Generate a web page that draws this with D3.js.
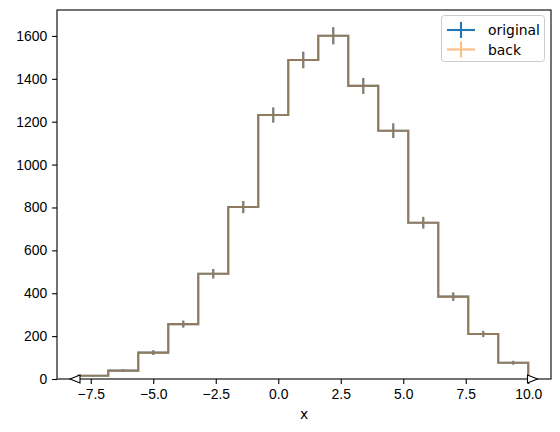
<!DOCTYPE html>
<meta charset="utf-8">
<head>
<style>
  * { margin: 0; padding: 0; }
  body { background: #fff; }
  svg { font-family: "DejaVu Sans", sans-serif; }
</style>
</head>
<body>
<svg id="chart" width="560" height="432"></svg>
<script src="https://cdn.jsdelivr.net/npm/d3@7"></script>
<script>
// bin edges and counts
var edges = [-8, -6.8, -5.6, -4.4, -3.2, -2.0, -0.8, 0.4, 1.6, 2.8, 4.0, 5.2, 6.4, 7.6, 8.8, 10.0];
var original = [15, 39, 123, 256, 491, 802, 1231, 1488, 1601, 1367, 1158, 729, 384, 210, 76];
var back = [15, 39, 123, 256, 491, 802, 1231, 1488, 1601, 1367, 1158, 729, 384, 210, 76];
var flowHints = [{x: -8.13, dir: "<"}, {x: 10.17, dir: ">"}];
var xTicks = [-7.5, -5.0, -2.5, 0.0, 2.5, 5.0, 7.5, 10.0];
var yTicks = [0, 200, 400, 600, 800, 1000, 1200, 1400, 1600];
var series = [
  {name: "original", values: original, color: "#1f77b4", opacity: 1},
  {name: "back", values: back, color: "#ff7f0e", opacity: 0.5}
];

var svg = d3.select("#chart");
// note: "top" is taken by window.top, so plot box uses its own names
var plotL = 57, plotR = 551, plotT = 10, plotB = 379;

var x = d3.scaleLinear().domain([-8.85, 10.91]).range([plotL, plotR]);
var y = d3.scaleLinear().domain([0, 1721]).range([plotB, plotT]);

var fmtX = function(d) { return d3.format(".1f")(d).replace("-", "\u2212"); };

// axes
var xAxis = d3.axisBottom(x).tickValues(xTicks).tickFormat(fmtX).tickSizeOuter(0).tickSize(4.9).tickPadding(4.9);
var yAxis = d3.axisLeft(y).tickValues(yTicks).tickFormat(d3.format("d")).tickSizeOuter(0).tickSize(4.9).tickPadding(4.9);

function styleAxis(g) {
  g.select(".domain").remove();
  g.selectAll("line").attr("stroke", "#000").attr("stroke-width", 1.1);
  g.selectAll("text").attr("fill", "#000").style("font-size", "13.9px");
}

svg.append("g").attr("transform", "translate(0," + plotB + ")").call(xAxis).call(styleAxis);
svg.append("g").attr("transform", "translate(" + plotL + ",0)").call(yAxis).call(styleAxis);

// series: step line + sqrt(N) error bars
series.forEach(function(s) {
  var g = svg.append("g").attr("opacity", s.opacity);
  var pts = [[edges[0], 0]];
  s.values.forEach(function(v, i) {
    pts.push([edges[i], v]);
    pts.push([edges[i + 1], v]);
  });
  pts.push([edges[edges.length - 1], 0]);
  var line = d3.line().x(function(d) { return x(d[0]); }).y(function(d) { return y(d[1]); });
  g.append("path")
    .attr("d", line(pts))
    .attr("fill", "none")
    .attr("stroke", s.color)
    .attr("stroke-width", 2.1)
    .attr("stroke-linejoin", "miter");
  g.selectAll("line.err")
    .data(s.values)
    .enter().append("line")
    .attr("x1", function(d, i) { return x((edges[i] + edges[i + 1]) / 2); })
    .attr("x2", function(d, i) { return x((edges[i] + edges[i + 1]) / 2); })
    .attr("y1", function(d) { return y(d - Math.sqrt(d)); })
    .attr("y2", function(d) { return y(d + Math.sqrt(d)); })
    .attr("stroke", s.color)
    .attr("stroke-width", 2.1);
});

// frame
svg.append("rect")
  .attr("x", plotL).attr("y", plotT)
  .attr("width", plotR - plotL).attr("height", plotB - plotT)
  .attr("fill", "none").attr("stroke", "#000").attr("stroke-width", 1.1);

// flow hint triangles
flowHints.forEach(function(h) {
  var cx = x(h.x), cy = y(0);
  var p = h.dir === "<"
    ? [[cx - 5, cy], [cx + 5, cy - 4], [cx + 5, cy + 4]]
    : [[cx + 5, cy], [cx - 5, cy - 4], [cx - 5, cy + 4]];
  svg.append("polygon")
    .attr("points", p.map(function(q) { return q.join(","); }).join(" "))
    .attr("fill", "#fff").attr("stroke", "#000").attr("stroke-width", 1.1);
});

// x label
svg.append("text")
  .attr("x", (plotL + plotR) / 2).attr("y", 419)
  .attr("text-anchor", "middle")
  .style("font-size", "13.9px")
  .text("x");

// legend
var lg = svg.append("g");
lg.append("rect")
  .attr("x", 441.5).attr("y", 15.5).attr("width", 103).attr("height", 46)
  .attr("rx", 3)
  .attr("fill", "#fff").attr("fill-opacity", 0.8)
  .attr("stroke", "#ccc");
series.forEach(function(s, i) {
  var ly = 30 + i * 19.5;
  var row = lg.append("g").attr("opacity", s.opacity);
  row.append("line").attr("x1", 447).attr("x2", 475).attr("y1", ly).attr("y2", ly)
    .attr("stroke", s.color).attr("stroke-width", 2.1);
  row.append("line").attr("x1", 461).attr("x2", 461).attr("y1", ly - 8).attr("y2", ly + 8)
    .attr("stroke", s.color).attr("stroke-width", 2.1);
  lg.append("text").attr("x", 488).attr("y", ly + 5)
    .style("font-size", "13.9px").attr("fill", "#000")
    .text(s.name);
});
</script>
</body>
